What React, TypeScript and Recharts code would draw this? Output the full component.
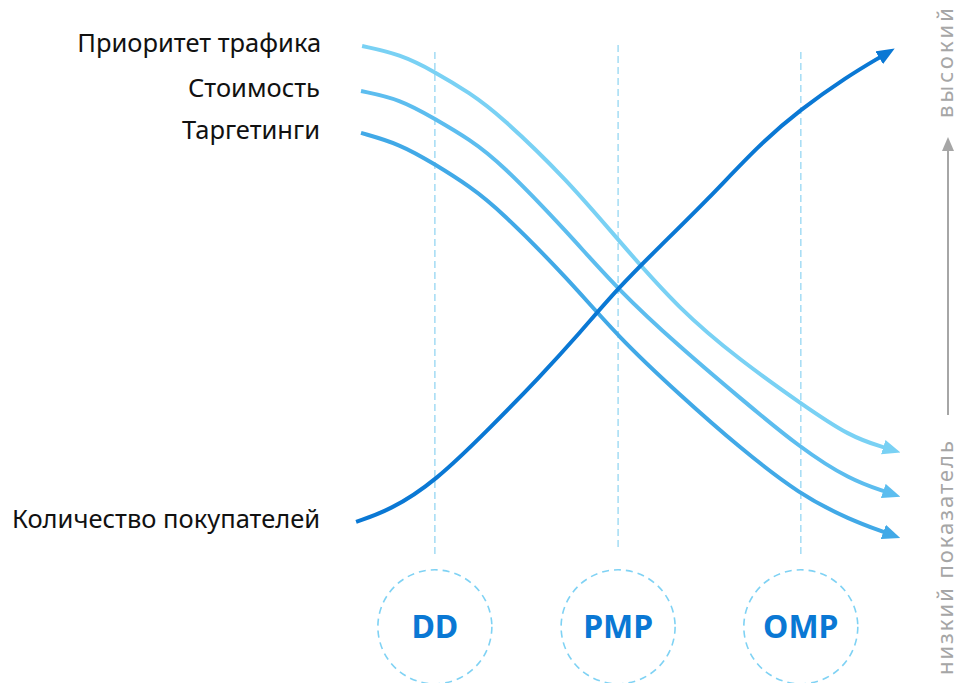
import React from 'react';
import { LineChart, Line, XAxis, YAxis, ReferenceLine, ReferenceDot } from 'recharts';

// Stages (x position in relative units 0..100)
const stageNames = ['DD', 'PMP', 'OMP'];
const stageX = [14.6, 48.1, 81.5];

// Series (x, y in relative units: y = level 0 low .. 100 high)
const trafficX = [1.3, 8.2, 14.6, 21.0, 26.5, 38.8, 48.1, 59.4, 70.4, 81.4, 90.5, 97.1];
const trafficY = [98.8, 97.2, 93.7, 89.5, 85.1, 72.3, 60.4, 46.5, 36.6, 28.1, 21.4, 19.2];

const costX = [1.1, 8.2, 14.6, 21.0, 26.5, 38.8, 48.1, 59.4, 70.4, 81.4, 90.5, 97.1];
const costY = [89.9, 88.3, 84.4, 80.3, 75.8, 62.0, 50.5, 39.2, 29.1, 19.2, 12.9, 10.5];

const targetX = [1.1, 8.2, 14.6, 21.0, 26.5, 38.8, 48.1, 59.4, 70.4, 81.4, 90.5, 97.1];
const targetY = [81.6, 79.4, 75.4, 71.0, 66.3, 52.9, 41.2, 29.7, 19.2, 9.9, 5.0, 2.4];

const buyersX = [0.2, 6.4, 14.6, 24.7, 33.8, 41.1, 48.1, 55.8, 64.4, 74.0, 81.4, 89.9, 96.3];
const buyersY = [4.6, 6.9, 12.5, 23.2, 33.3, 42.0, 50.9, 59.2, 68.3, 79.4, 86.2, 92.7, 96.8];

const seriesNames = ['Приоритет трафика', 'Стоимость', 'Таргетинги', 'Количество покупателей'];
const seriesColors = ['#79d1f4', '#5cbdef', '#41a9e7', '#0a78d4'];
const labelGap = [41, 41, 41, 36];

const axisLow = 'низкий показатель';
const axisHigh = 'высокий';

const toPoints = (xs: number[], ys: number[]) => xs.map((x, i) => ({ x, y: ys[i] }));

const series = [
  toPoints(trafficX, trafficY),
  toPoints(costX, costY),
  toPoints(targetX, targetY),
  toPoints(buyersX, buyersY),
];

const FONT = '"Noto Sans", "Open Sans", sans-serif';

const makeLabel = (name: string, gap: number) => (props: any) => {
  const { x, y, index } = props;
  if (index !== 0) return null;
  return (
    <text
      x={x - gap}
      y={y - 4}
      textAnchor="end"
      dominantBaseline="central"
      fontFamily={FONT}
      fontSize={25.5}
      fill="#111"
    >
      {name}
    </text>
  );
};

export default function App() {
  return (
    <div style={{ position: 'absolute', left: 0, top: 0, width: 959, height: 683, background: '#fff' }}>
      <svg width={0} height={0} style={{ position: 'absolute' }}>
        <defs>
          {seriesColors.map((c, i) => (
            <marker
              key={i}
              id={`arrow${i}`}
              markerUnits="userSpaceOnUse"
              markerWidth={18}
              markerHeight={16}
              viewBox="0 0 18 16"
              refX={3}
              refY={8}
              orient="auto"
            >
              <path d="M0,0.5 L18,8 L0,15.5 Z" fill={c} />
            </marker>
          ))}
        </defs>
      </svg>
      <LineChart
        width={959}
        height={683}
        margin={{ top: 40, right: 57, bottom: 138, left: 355 }}
      >
        <XAxis type="number" dataKey="x" domain={[0, 100]} hide allowDataOverflow />
        <YAxis type="number" dataKey="y" domain={[0, 100]} hide allowDataOverflow />
        {stageX.map((sx, i) => (
          <ReferenceLine
            key={`rl${i}`}
            segment={[{ x: sx, y: i === 1 ? 99 : 97.6 }, { x: sx, y: i === 1 ? -0.6 : -2 }]}
            stroke="#a9def5"
            strokeWidth={1.6}
            strokeDasharray="7 4"
            ifOverflow="visible"
          />
        ))}
        {stageX.map((sx, i) => (
          <ReferenceDot
            key={`rd${i}`}
            x={sx}
            y={-16.2}
            r={57}
            fill="none"
            stroke="#7fd2f4"
            strokeWidth={1.6}
            strokeDasharray="7 5"
            ifOverflow="visible"
            label={{
              value: stageNames[i],
              position: 'center',
              fill: '#0a78d4',
              fontSize: 32,
              fontWeight: 700,
              fontFamily: FONT,
            }}
          />
        ))}
        {series.map((data, i) => (
          <Line
            key={`s${i}`}
            data={data}
            dataKey="y"
            type="basis"
            stroke={seriesColors[i]}
            strokeWidth={4}
            dot={false}
            activeDot={false}
            isAnimationActive={false}
            markerEnd={`url(#arrow${i})`}
            label={makeLabel(seriesNames[i], labelGap[i])}
          />
        ))}
      </LineChart>
      <svg width={959} height={683} style={{ position: 'absolute', left: 0, top: 0, pointerEvents: 'none' }}>
        <text
          transform="translate(953,675) rotate(-90)"
          fontFamily={FONT}
          fontSize={22}
          fill="#a6a6a6"
          textLength={234}
          lengthAdjust="spacing"
        >
          {axisLow}
        </text>
        <line x1={948} y1={415} x2={948} y2={150} stroke="#a6a6a6" strokeWidth={2} />
        <path d="M942,151 L948,137 L954,151 Z" fill="#a6a6a6" />
        <text
          transform="translate(953,118) rotate(-90)"
          fontFamily={FONT}
          fontSize={22}
          fill="#a6a6a6"
          textLength={110}
          lengthAdjust="spacing"
        >
          {axisHigh}
        </text>
      </svg>
    </div>
  );
}
